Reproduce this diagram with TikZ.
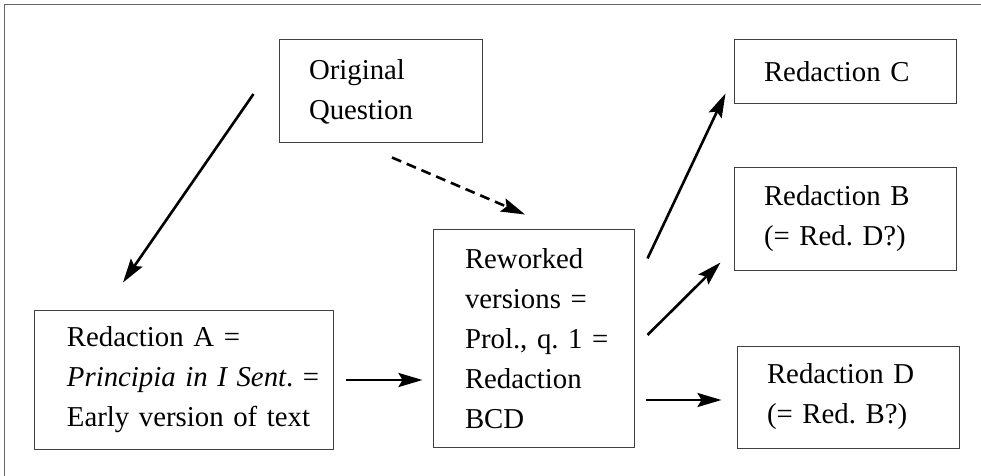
\documentclass[tikz,border=0pt]{standalone}
\usepackage{fontspec}
\setmainfont{Liberation Serif}
\frenchspacing
\usetikzlibrary{arrows.meta,calc}
\begin{document}
\begin{tikzpicture}[
  x=0.5pt, y=-0.5pt,
  font=\fontsize{14.4}{20}\selectfont,
  box/.style={draw=black!75, line width=.5pt, inner xsep=0pt, inner ysep=0pt, align=left,
    execute at begin node={\leftskip=#1}},
  box/.default=15pt,
  arrow/.style={-{Stealth[length=12pt, width=7pt, inset=2pt]}, line width=1.3pt}
]
\useasboundingbox (0,0) rectangle (981,476);
\draw[black!60, line width=.5pt] (4,476) -- (4,5) -- (981,5);
\node[box, text width=101.5pt, minimum height=51.5pt] (orig) at (380.5,91.5) {Original\\Question};
\node[box=16.5pt, text width=149.5pt, minimum height=69.5pt] (reda) at (183.5,379.5) {Redaction A =\\\textit{Principia in I Sent}. =\\Early version of text};
\node[box=16pt, text width=100.5pt, minimum height=108.5pt] (rew) at (533.5,338.5) {Reworked\\versions =\\Prol., q. 1 =\\Redaction\\BCD};
\node[box, text width=111pt, minimum height=32pt] (redc) at (845,72) {Redaction C};
\node[box, text width=111pt, minimum height=51pt] (redb) at (845,219) {Redaction B\\(= Red. D?)};
\node[box, text width=111pt, minimum height=51pt] (redd) at (848,397) {Redaction D\\(= Red. B?)};
\draw[arrow] ($(orig.west)+(-25,2.5)$) -- ($(reda.north)+(-60.5,-27)$);
\draw[arrow, dash pattern=on 5pt off 3pt] ($(orig.south)+(11.5,14)$) -- ($(rew.north)+(-8.5,-15)$);
\draw[arrow] ($(reda.east)+(12,0.5)$) -- ($(reda.east -| rew.west)+(-10,0.5)$);
\draw[arrow] ($(rew.north east)+(13,29)$) -- ($(redc.south west)+(-8,-11)$);
\draw[arrow] ($(rew.east)+(13,-3.5)$) -- ($(redb.south west)+(-13,-8)$);
\draw[arrow] ($(rew.east)+(11,61.5)$) -- ($(redd.west)+(-15,3)$);
\end{tikzpicture}
\end{document}
